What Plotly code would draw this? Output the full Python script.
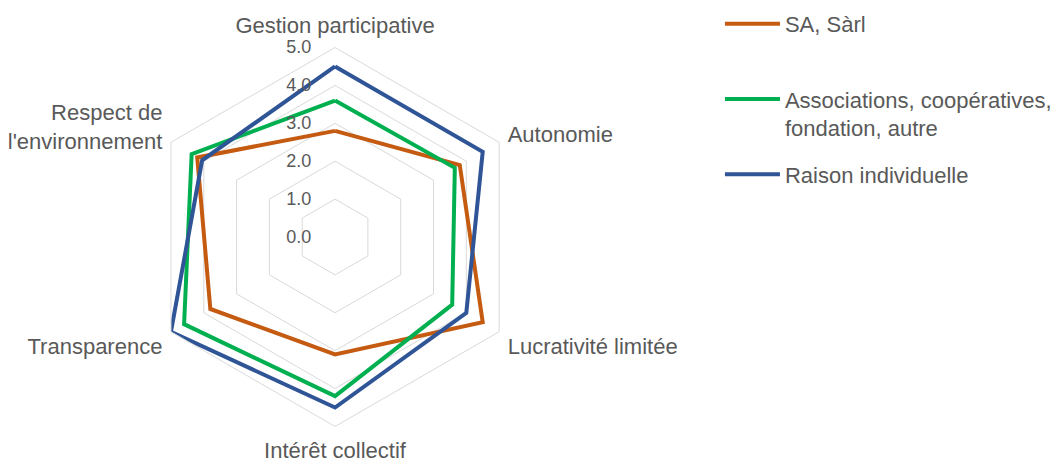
import plotly.graph_objects as go

categories = ["Gestion participative", "Autonomie", "Lucrativité limitée",
              "Intérêt collectif", "Transparence", "Respect de<br>l'environnement"]
series_names = ["SA, Sàrl<br>&nbsp;", "Associations, coopératives,<br>fondation, autre", "Raison individuelle"]
sa_sarl = [2.8, 3.8, 4.5, 3.1, 3.8, 4.2]
associations = [3.6, 3.65, 3.57, 4.2, 4.6, 4.37]
raison_ind = [4.5, 4.5, 4.0, 4.5, 5.0, 4.05]
colors = ["#C55A11", "#00B050", "#2F5597"]
radial_ticks = [0, 1, 2, 3, 4, 5]

fig = go.Figure()
for name, vals, col in zip(series_names, [sa_sarl, associations, raison_ind], colors):
    fig.add_trace(go.Scatterpolar(
        r=vals + vals[:1],
        theta=categories + categories[:1],
        mode="lines",
        name=name,
        legendgroup=name,
        line=dict(color=col, width=4),
    ))

fig.update_layout(
    width=1057, height=462,
    margin=dict(l=0, r=0, t=0, b=0),
    paper_bgcolor="white",
    font=dict(family="Liberation Sans, Arial, sans-serif", color="#595959", size=22),
    polar=dict(
        domain=dict(x=[146/1057, 526/1057], y=[35/462, 415/462]),
        bgcolor="white",
        gridshape="linear",
        angularaxis=dict(
            direction="clockwise", rotation=90, type="category",
            showgrid=False, showline=True, linecolor="#D9D9D9", linewidth=1,
            ticks="outside", ticklen=5, tickcolor="rgba(0,0,0,0)",
            tickfont=dict(size=22, color="#595959"),
        ),
        radialaxis=dict(
            range=[0, 5], tickvals=radial_ticks, tickformat=".1f",
            angle=90, side="counterclockwise", showline=False, tickangle=90,
            gridcolor="#D9D9D9", gridwidth=1,
            ticks="outside", ticklen=17, tickcolor="rgba(0,0,0,0)",
            tickfont=dict(size=18, color="#595959"),
        ),
    ),
    showlegend=True,
    legend=dict(
        x=722/1057, y=1 - 3/462, xanchor="left", yanchor="top",
        traceorder="grouped", tracegroupgap=15, valign="top",
        itemwidth=55,
        font=dict(size=22, color="#595959"),
    ),
)

fig.write_html("out.html", config={"displayModeBar": False},
               post_script="document.body.style.margin='0';")
